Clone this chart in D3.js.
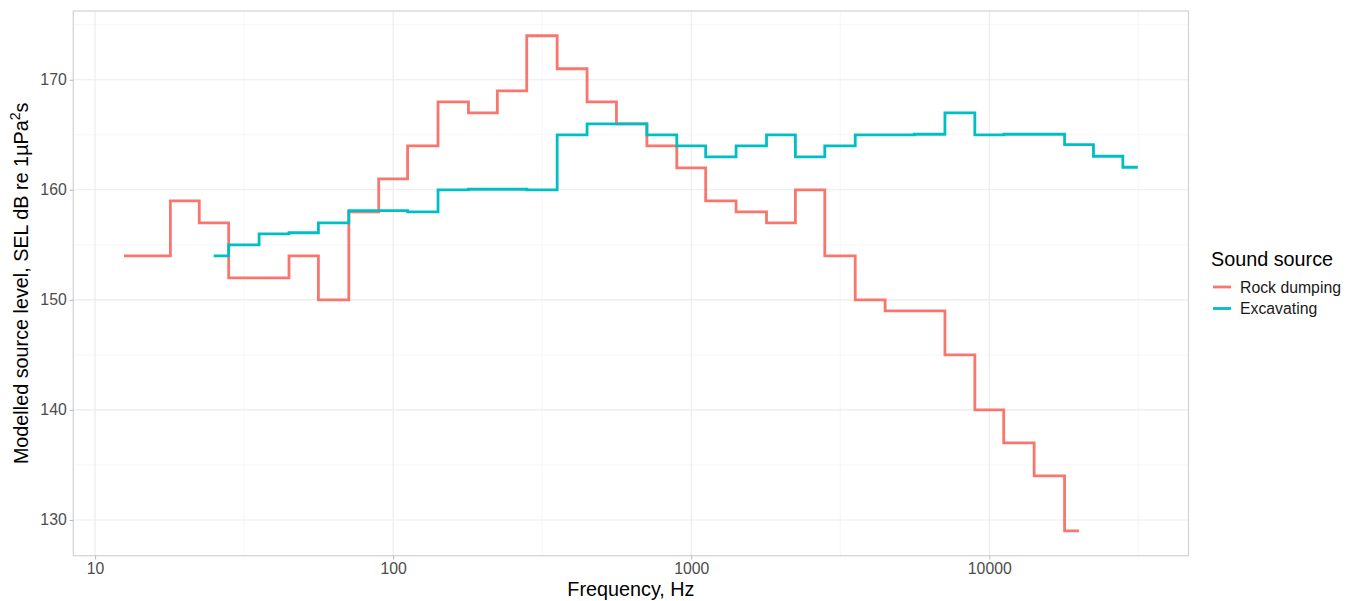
<!DOCTYPE html>
<html>
<head>
<meta charset="utf-8">
<script src="https://cdn.jsdelivr.net/npm/d3@7"></script>
<style>
  body { margin: 0; background: #fff; }
  text { font-family: "Liberation Sans", Arial, sans-serif; }
</style>
</head>
<body>
<svg id="chart" width="1356" height="601"></svg>
<script>
// third-octave band centre frequencies, Hz
const bands = [12.5, 16, 20, 25, 31.5, 40, 50, 63, 80, 100, 125, 160, 200, 250, 315, 400, 500,
  630, 800, 1000, 1250, 1600, 2000, 2500, 3150, 4000, 5000, 6300, 8000, 10000, 12500, 16000,
  20000, 25000, 31500];

// Rock dumping: 12.5 Hz .. 20 kHz
const rockLevels = [154, 154, 159, 157, 152, 152, 154, 150, 158, 161, 164, 168, 167, 169, 174, 171,
  168, 166, 164, 162, 159, 158, 157, 160, 154, 150, 149, 149, 145, 140, 137, 134, 129];

// Excavating: 25 Hz .. 31.5 kHz
const excavLevels = [154, 155, 156, 156.1, 157, 158.1, 158.1, 158, 160, 160.05, 160.05, 160, 165,
  166, 166, 165, 164, 163, 164, 165, 163, 164, 165, 165, 165.05, 167, 165, 165.05, 165.05, 164.1,
  163.05, 162.05];

const seriesNames = ['Rock dumping', 'Excavating'];
const seriesColors = ['#F8766D', '#00BFC4'];
const xTicks = [10, 100, 1000, 10000];
const yTicks = [130, 140, 150, 160, 170];

const width = 1356, height = 601;
const margin = { top: 11, right: 167.5, bottom: 45.3, left: 73.3 };

const series = [
  { name: seriesNames[0], color: seriesColors[0],
    values: rockLevels.map((v, i) => ({ f: bands[i], v })) },
  { name: seriesNames[1], color: seriesColors[1],
    values: excavLevels.map((v, i) => ({ f: bands[i + 3], v })) },
];

const allPts = series.flatMap(s => s.values);

// ggplot-like 5% expansion (in log space for x)
const lf = d3.extent(allPts, d => Math.log10(d.f));
const lpad = (lf[1] - lf[0]) * 0.05;
const ve = d3.extent(allPts, d => d.v);
const vpad = (ve[1] - ve[0]) * 0.05;

const x = d3.scaleLog()
  .domain([10 ** (lf[0] - lpad), 10 ** (lf[1] + lpad)])
  .range([margin.left, width - margin.right]);
const y = d3.scaleLinear()
  .domain([ve[0] - vpad, ve[1] + vpad])
  .range([height - margin.bottom, margin.top]);

const svg = d3.select('#chart');
svg.append('rect').attr('width', width).attr('height', height).attr('fill', '#fff');

const x0 = margin.left, x1 = width - margin.right;
const y0 = margin.top, y1 = height - margin.bottom;

// grid
const grid = svg.append('g');
const xMinor = xTicks.map(t => t * Math.sqrt(10));
const yMinor = yTicks.map(t => t + 5);

grid.selectAll('.xminor').data(xMinor).join('line')
  .attr('x1', d => x(d)).attr('x2', d => x(d)).attr('y1', y0).attr('y2', y1)
  .attr('stroke', '#f4f4f4').attr('stroke-width', 0.8);
grid.selectAll('.yminor').data(yMinor).join('line')
  .attr('y1', d => y(d)).attr('y2', d => y(d)).attr('x1', x0).attr('x2', x1)
  .attr('stroke', '#f4f4f4').attr('stroke-width', 0.8);
grid.selectAll('.xmajor').data(xTicks).join('line')
  .attr('x1', d => x(d)).attr('x2', d => x(d)).attr('y1', y0).attr('y2', y1)
  .attr('stroke', '#ebebeb').attr('stroke-width', 1.1);
grid.selectAll('.ymajor').data(yTicks).join('line')
  .attr('y1', d => y(d)).attr('y2', d => y(d)).attr('x1', x0).attr('x2', x1)
  .attr('stroke', '#ebebeb').attr('stroke-width', 1.1);

// step lines (geom_step direction = "mid")
const line = d3.line()
  .x(d => x(d.f))
  .y(d => y(d.v))
  .curve(d3.curveStep);

svg.append('g').selectAll('path').data(series).join('path')
  .attr('d', d => line(d.values))
  .attr('fill', 'none')
  .attr('stroke', d => d.color)
  .attr('stroke-width', 2.8)
  .attr('stroke-linejoin', 'miter')
  .attr('stroke-linecap', 'butt');

// panel border
svg.append('rect')
  .attr('x', x0).attr('y', y0).attr('width', x1 - x0).attr('height', y1 - y0)
  .attr('fill', 'none').attr('stroke', '#d2d2d2').attr('stroke-width', 1.2);

// axes
const xAxis = svg.append('g')
  .attr('transform', `translate(0,${y1})`)
  .call(d3.axisBottom(x).tickValues(xTicks).tickFormat(d3.format('d'))
    .tickSize(3.7).tickSizeOuter(0).tickPadding(3.4));
const yAxis = svg.append('g')
  .attr('transform', `translate(${x0},0)`)
  .call(d3.axisLeft(y).tickValues(yTicks).tickFormat(d3.format('d'))
    .tickSize(3.7).tickSizeOuter(0).tickPadding(2.9));

[xAxis, yAxis].forEach(ax => {
  ax.select('.domain').remove();
  ax.selectAll('.tick line').attr('stroke', '#b8b8b8').attr('stroke-width', 1);
  ax.selectAll('.tick text')
    .attr('fill', '#4d4d4d')
    .style('font-size', '15.8px')
    .style('font-family', '"Liberation Sans", Arial, sans-serif');
});

// axis titles
svg.append('text')
  .attr('x', (x0 + x1) / 2).attr('y', 596)
  .attr('text-anchor', 'middle')
  .attr('fill', '#000')
  .style('font-size', '19.8px')
  .text('Frequency, Hz');

const yTitle = svg.append('text')
  .attr('transform', `translate(28,${(y0 + y1) / 2}) rotate(-90)`)
  .attr('text-anchor', 'middle')
  .attr('fill', '#000')
  .style('font-size', '19.8px');
yTitle.append('tspan').text('Modelled source level, SEL dB re 1µPa');
yTitle.append('tspan').attr('dy', -8).style('font-size', '14px').text('2');
yTitle.append('tspan').attr('dy', 8).text('s');

// legend
const legend = svg.append('g');
legend.append('text')
  .attr('x', 1211).attr('y', 265.7)
  .attr('fill', '#000')
  .style('font-size', '19.8px')
  .text('Sound source');

const keys = legend.selectAll('.key').data(series).join('g')
  .attr('transform', (d, i) => `translate(0,${287 + i * 21.5})`);
keys.append('line')
  .attr('x1', 1213).attr('x2', 1231).attr('y1', 0).attr('y2', 0)
  .attr('stroke', d => d.color).attr('stroke-width', 2.8);
keys.append('text')
  .attr('x', 1240).attr('y', 5.5)
  .attr('fill', '#1a1a1a')
  .style('font-size', '15.8px')
  .text(d => d.name);
</script>
</body>
</html>
